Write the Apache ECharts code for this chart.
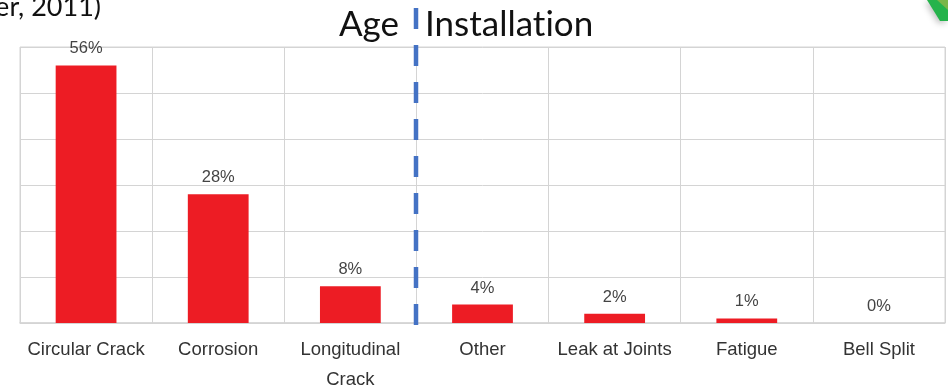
<!DOCTYPE html>
<html>
<head>
<meta charset="utf-8">
<script src="https://cdn.jsdelivr.net/npm/echarts@6/dist/echarts.min.js"></script>
<style>
  html, body { margin: 0; padding: 0; background: #fff; }
  #chart { width: 948px; height: 389px; }
</style>
</head>
<body>
<div id="chart"></div>
<script>
// Failure modes and their share of breaks (%)
const categories = ['Circular Crack', 'Corrosion', 'Longitudinal\nCrack', 'Other', 'Leak at Joints', 'Fatigue', 'Bell Split'];
const shares = [56, 28, 8, 4, 2, 1, 0];
const yTicks = { min: 0, max: 60, interval: 10 };
const groupLabels = ['Age', 'Installation'];
const sourceText = 'er, 2011)';

const chart = echarts.init(document.getElementById('chart'), null, { renderer: 'canvas' });

const gridColor = '#d4d4d4';
const headFamily = 'Lato, "Open Sans", sans-serif';

// Split a word into separately drawn rich-text runs so the font's "ti" ligature is not used
function plainRuns(word) {
  const cut = word.indexOf('ti');
  if (cut < 0) return word;
  return '{h|' + word.slice(0, cut + 1) + '}{h|' + word.slice(cut + 1) + '}';
}

chart.setOption({
  animation: false,
  backgroundColor: '#ffffff',
  grid: {
    left: 20, right: 3, top: 47, bottom: 66,
    containLabel: false,
    outerBoundsMode: 'none',
    show: true, borderColor: gridColor, borderWidth: 1
  },
  xAxis: {
    type: 'category',
    data: categories,
    axisTick: { show: false },
    axisLine: { lineStyle: { color: gridColor, width: 1.5 } },
    splitLine: { show: true, interval: 0, lineStyle: { color: gridColor, width: 1 } },
    axisLabel: {
      interval: 0,
      color: '#333333',
      fontFamily: 'Liberation Sans, Arial, sans-serif',
      fontSize: 18.5,
      lineHeight: 30,
      margin: 12
    }
  },
  yAxis: {
    type: 'value',
    min: yTicks.min, max: yTicks.max, interval: yTicks.interval,
    axisLabel: { show: false },
    axisLine: { show: false },
    axisTick: { show: false },
    splitLine: { show: true, lineStyle: { color: gridColor, width: 1 } }
  },
  series: [{
    type: 'bar',
    data: shares,
    barWidth: '46%',
    itemStyle: { color: '#ed1c24' },
    label: {
      show: true,
      position: 'top',
      distance: 8,
      formatter: '{c}%',
      color: '#444444',
      fontFamily: 'Liberation Sans, Arial, sans-serif',
      fontSize: 16.5
    }
  }]
});

// Divider between the age-related and installation-related failure modes
const xLeft = chart.convertToPixel({ xAxisIndex: 0 }, categories[2]);
const xRight = chart.convertToPixel({ xAxisIndex: 0 }, categories[3]);
const xDiv = Math.round((xLeft + xRight) / 2);

const headStyle = { fontFamily: headFamily, fontSize: 35, fill: '#111111' };

chart.setOption({
  graphic: [
    {
      type: 'line',
      shape: { x1: xDiv, y1: 8, x2: xDiv, y2: 328 },
      style: { stroke: '#4472c4', lineWidth: 4.5, lineDash: [21, 16] },
      z: 10
    },
    {
      type: 'text',
      style: Object.assign({
        x: xDiv - 17, y: 25, text: groupLabels[0],
        align: 'right', verticalAlign: 'middle'
      }, headStyle)
    },
    {
      type: 'text',
      style: Object.assign({
        x: xDiv + 9, y: 25, text: plainRuns(groupLabels[1]),
        align: 'left', verticalAlign: 'middle',
        rich: { h: { fontFamily: headFamily, fontSize: 35, fill: '#111111', color: '#111111' } }
      }, headStyle)
    },
    {
      type: 'text',
      style: {
        x: 101, y: 7, text: sourceText,
        align: 'right', verticalAlign: 'middle',
        fontFamily: headFamily, fontSize: 27, fill: '#111111'
      }
    },
    {
      // corner badge
      type: 'polygon',
      shape: { points: [[927, 0], [948, 0], [948, 21], [940, 21]] },
      style: { fill: '#25b34b', shadowBlur: 6, shadowColor: 'rgba(0,0,0,0.25)', shadowOffsetX: -2, shadowOffsetY: 2 }
    },
    {
      type: 'polygon',
      shape: { points: [[937, 0], [948, 0], [948, 10]] },
      style: { fill: '#7ab648' }
    }
  ]
});
</script>
</body>
</html>
